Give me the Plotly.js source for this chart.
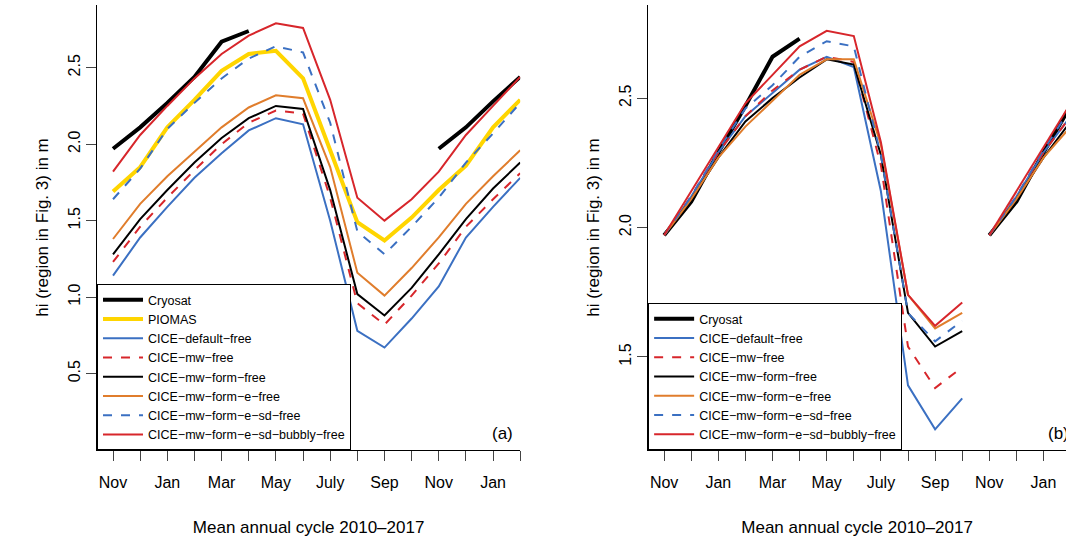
<!DOCTYPE html>
<html>
<head>
<meta charset="utf-8">
<script src="https://cdn.plot.ly/plotly-3.0.1.min.js"></script>
<style>body{margin:0;background:#fff}#chart{width:1066px;height:538px}</style>
</head>
<body>
<div id="chart"></div>
<script>
// month index 0..15 = Nov .. Feb
var months = [0,1,2,3,4,5,6,7,8,9,10,11,12,13,14,15];
var tickVals = [0,2,4,6,8,10,12,14];
var tickText = ["Nov","Jan","Mar","May","July","Sep","Nov","Jan"];

// panel (a)
var aCryosat = [1.97,2.11,2.27,2.44,2.67,2.74,null,null,null,null,null,null,1.97,2.11,2.28,2.44];
var aPiomas  = [1.69,1.85,2.11,2.29,2.48,2.59,2.61,2.43,1.96,1.49,1.37,1.52,1.70,1.86,2.11,2.29];
var aDefault = [1.14,1.39,1.59,1.78,1.94,2.09,2.17,2.13,1.50,0.78,0.67,0.86,1.07,1.39,1.59,1.78];
var aMw      = [1.23,1.46,1.65,1.83,2.00,2.14,2.22,2.20,1.65,0.96,0.82,1.01,1.22,1.46,1.64,1.81];
var aForm    = [1.28,1.51,1.70,1.88,2.04,2.17,2.25,2.23,1.70,1.02,0.88,1.06,1.28,1.51,1.71,1.88];
var aFormE   = [1.38,1.61,1.79,1.95,2.11,2.24,2.32,2.30,1.85,1.16,1.01,1.19,1.39,1.61,1.79,1.96];
var aSd      = [1.64,1.84,2.10,2.27,2.43,2.56,2.64,2.60,2.14,1.43,1.28,1.46,1.65,1.88,2.07,2.27];
var aBubbly  = [1.82,2.06,2.25,2.43,2.59,2.71,2.79,2.76,2.29,1.65,1.50,1.64,1.82,2.06,2.25,2.44];

// panel (b) - model runs restart each November, so the cycle is split
var bCryosat = [1.97,2.10,2.29,2.47,2.66,2.73,null,null,null,null,null,null,1.97,2.10,2.29,2.47];
var bDefault = [1.97,2.12,2.29,2.43,2.52,2.61,2.66,2.62,2.14,1.39,1.22,1.34,1.97,2.12,2.29,2.43];
var bMw      = [1.97,2.12,2.29,2.43,2.53,2.61,2.66,2.64,2.24,1.54,1.38,1.46,1.97,2.12,2.29,2.43];
var bForm    = [1.97,2.11,2.27,2.41,2.50,2.58,2.65,2.63,2.28,1.67,1.54,1.60,1.97,2.11,2.27,2.41];
var bFormE   = [1.97,2.11,2.27,2.39,2.49,2.59,2.65,2.65,2.32,1.74,1.61,1.67,1.97,2.11,2.27,2.39];
var bSd      = [1.97,2.12,2.30,2.46,2.55,2.66,2.72,2.70,2.28,1.67,1.56,1.64,1.97,2.12,2.30,2.46];
var bBubbly  = [1.97,2.14,2.31,2.48,2.59,2.70,2.76,2.74,2.33,1.74,1.62,1.71,1.97,2.14,2.31,2.48];

var BLUE = "#3b70c2", RED = "#d7262b", ORANGE = "#e07d2c", YELLOW = "#ffd500";

function seg(arr, from, to) {
    return arr.map(function (v, i) { return (i >= from && i <= to) ? v : null; });
}

function tr(y, name, color, width, dash, xa, ya, legend, show) {
    return { x: months, y: y, name: name, type: 'scatter', mode: 'lines',
        line: { color: color, width: width, dash: dash || 'solid' },
        xaxis: xa, yaxis: ya, legend: legend, showlegend: show };
}

var traces = [];
var setA = [
    [aCryosat, "Cryosat", "#000", 4, null],
    [aPiomas, "PIOMAS", YELLOW, 4, null],
    [aDefault, "CICE\u2212default\u2212free", BLUE, 2, null],
    [aMw, "CICE\u2212mw\u2212free", RED, 2, "dash"],
    [aForm, "CICE\u2212mw\u2212form\u2212free", "#000", 2, null],
    [aFormE, "CICE\u2212mw\u2212form\u2212e\u2212free", ORANGE, 2, null],
    [aSd, "CICE\u2212mw\u2212form\u2212e\u2212sd\u2212free", BLUE, 2, "dash"],
    [aBubbly, "CICE\u2212mw\u2212form\u2212e\u2212sd\u2212bubbly\u2212free", RED, 2, null]
];
var setB = [
    [bCryosat, "Cryosat", "#000", 4, null],
    [bDefault, "CICE\u2212default\u2212free", BLUE, 2, null],
    [bMw, "CICE\u2212mw\u2212free", RED, 2, "dash"],
    [bForm, "CICE\u2212mw\u2212form\u2212free", "#000", 2, null],
    [bFormE, "CICE\u2212mw\u2212form\u2212e\u2212free", ORANGE, 2, null],
    [bSd, "CICE\u2212mw\u2212form\u2212e\u2212sd\u2212free", BLUE, 2, "dash"],
    [bBubbly, "CICE\u2212mw\u2212form\u2212e\u2212sd\u2212bubbly\u2212free", RED, 2, null]
];
setA.forEach(function (s) {
    traces.push(tr(s[0], s[1], s[2], s[3], s[4], 'x', 'y', 'legend', true));
});
setB.forEach(function (s) {
    traces.push(tr(seg(s[0], 0, 11), s[1], s[2], s[3], s[4], 'x2', 'y2', 'legend2', true));
    traces.push(tr(seg(s[0], 12, 15), s[1], s[2], s[3], s[4], 'x2', 'y2', 'legend2', false));
});

var font = { family: "Liberation Sans, Arial, sans-serif", size: 16, color: "#000" };
function xax(domain, range, anchor) {
    return { domain: domain, range: range, anchor: anchor, tickvals: months, ticktext: months.map(function (m) {
            var k = tickVals.indexOf(m); return k < 0 ? "" : tickText[k]; }),
        ticks: 'outside', ticklen: 10, ticklabelstandoff: 8, showline: true, linecolor: '#000', showgrid: false, zeroline: false,
        tickfont: { size: 16 }, title: { text: "Mean annual cycle 2010\u20132017", font: { size: 17 }, standoff: 30 } };
}
function yax(range, anchor, vals) {
    return { domain: [0.165, 1], range: range, anchor: anchor, tickvals: vals, ticks: 'outside', ticklen: 10,
        tickangle: -90, showline: true, linecolor: '#000', showgrid: false, zeroline: false,
        tickformat: '.1f', tickfont: { size: 16 },
        title: { text: "hi (region in Fig. 3) in m", font: { size: 17 }, standoff: 12 } };
}
var legStyle = { bgcolor: '#fff', bordercolor: '#000', borderwidth: 1, font: { size: 12.5 },
    xanchor: 'left', yanchor: 'bottom', tracegroupgap: 0, itemwidth: 40 };

var layout = {
    width: 1066, height: 538, margin: { l: 0, r: 0, t: 5, b: 0 },
    paper_bgcolor: '#fff', plot_bgcolor: '#fff', font: font,
    xaxis: xax([0.091, 0.488], [-0.59, 15.0], 'y'),
    yaxis: yax([0, 2.91], 'x', [0.5, 1.0, 1.5, 2.0, 2.5]),
    xaxis2: xax([0.608, 1.0], [-0.59, 14.83], 'y2'),
    yaxis2: yax([1.14, 2.86], 'x2', [1.5, 2.0, 2.5]),
    legend: Object.assign({ x: 0.091, y: 0.165 }, legStyle),
    legend2: Object.assign({ x: 0.608, y: 0.165 }, legStyle),
    annotations: [
        { text: "(a)", xref: 'x', yref: 'paper', x: 14.8, y: 0.175, xanchor: 'right', yanchor: 'bottom', showarrow: false, font: { size: 17 } },
        { text: "(b)", xref: 'paper', yref: 'paper', x: 1.005, y: 0.175, xanchor: 'right', yanchor: 'bottom', showarrow: false, font: { size: 17 } }
    ]
};
Plotly.newPlot('chart', traces, layout, { displayModeBar: false });
</script>
</body>
</html>
